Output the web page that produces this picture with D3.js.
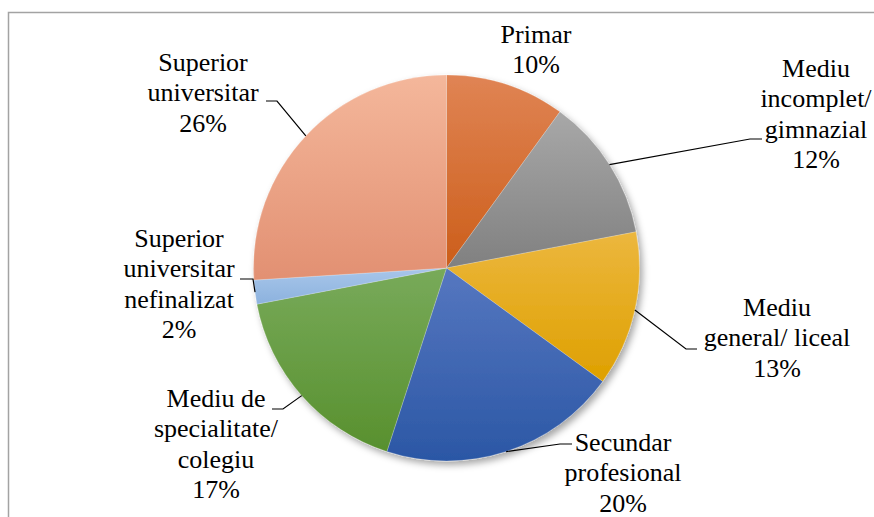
<!DOCTYPE html>
<html>
<head>
<meta charset="utf-8">
<script src="https://cdn.jsdelivr.net/npm/d3@7"></script>
<style>
  html, body { margin: 0; padding: 0; background: #fff; }
  #wrap { position: relative; width: 874px; height: 517px; overflow: hidden; }
  svg { display: block; position: absolute; left: 0; top: 0; }
  .lbl {
    position: absolute;
    white-space: nowrap;
    transform: translateX(-50%);
    font-family: "Liberation Serif", "Times New Roman", Tinos, serif;
    font-size: 26px;
    line-height: 30.3px;
    color: #000;
    text-align: center;
  }
</style>
</head>
<body>
<div id="wrap">
<svg id="chart" width="874" height="517"></svg>
</div>
<script>
// Education level distribution (percent)
const categories = [
  "Primar",
  "Mediu incomplet/ gimnazial",
  "Mediu general/ liceal",
  "Secundar profesional",
  "Mediu de specialitate/ colegiu",
  "Superior universitar nefinalizat",
  "Superior universitar"
];
const values = [10, 12, 13, 20, 17, 2, 26];

// Label line breaks for each category
const labelLines = [
  ["Primar"],
  ["Mediu", "incomplet/", "gimnazial"],
  ["Mediu", "general/ liceal"],
  ["Secundar", "profesional"],
  ["Mediu de", "specialitate/", "colegiu"],
  ["Superior", "universitar", "nefinalizat"],
  ["Superior", "universitar"]
];

// Slice gradient colours: [top, bottom]
const sliceColors = [
  ["#e08454", "#cc5e1a"],
  ["#a8a8a8", "#808080"],
  ["#ecb73e", "#dea000"],
  ["#5677c0", "#2b57a5"],
  ["#78aa5a", "#58902e"],
  ["#a8c6ea", "#8cb2de"],
  ["#f4b79b", "#e29072"]
];

// Label layout: centre x, first baseline y, leader elbow (x,y) and end x (null = no leader)
const labelLayout = [
  { x: 536, y: 44, leader: null },
  { x: 816, y: 78, leader: { ex: 750, ey: 139, tx: 762 } },
  { x: 777, y: 317, leader: { ex: 686, ey: 349, tx: 697 } },
  { x: 623, y: 452, leader: { ex: 560, ey: 444, tx: 572 } },
  { x: 216, y: 408, leader: { ex: 283, ey: 409, tx: 272 } },
  { x: 179, y: 248, leader: { ex: 253, ey: 279, tx: 240 } },
  { x: 203, y: 72, leader: { ex: 277, ey: 101, tx: 266 } }
];

const cx = 446.5, cy = 268, radius = 193;
// distance from a 30.3px line box top to the baseline at 26px
const baselineOffset = 24;

const svg = d3.select("#chart");
const defs = svg.append("defs");

// Soft drop shadow under the pie
const f = defs.append("filter").attr("id", "pieShadow")
  .attr("x", "-10%").attr("y", "-10%").attr("width", "125%").attr("height", "125%");
f.append("feDropShadow").attr("dx", 3).attr("dy", 4).attr("stdDeviation", 3.5)
  .attr("flood-color", "#000").attr("flood-opacity", 0.35);

sliceColors.forEach((c, i) => {
  const g = defs.append("linearGradient").attr("id", "grad" + i)
    .attr("x1", 0).attr("y1", 0).attr("x2", 0).attr("y2", 1);
  g.append("stop").attr("offset", "0%").attr("stop-color", c[0]);
  g.append("stop").attr("offset", "100%").attr("stop-color", c[1]);
});

// Chart frame
svg.append("path")
  .attr("d", "M8.5,517 L8.5,12.5 L874,12.5")
  .attr("fill", "none").attr("stroke", "#a3a3a3").attr("stroke-width", 1.5);

const data = categories.map((c, i) => ({ name: c, value: values[i], i }));
const pie = d3.pie().value(d => d.value).sort(null);
const arcs = pie(data);
const arc = d3.arc().innerRadius(0).outerRadius(radius);

const gPie = svg.append("g")
  .attr("transform", `translate(${cx},${cy})`)
  .attr("filter", "url(#pieShadow)");

gPie.selectAll("path")
  .data(arcs)
  .join("path")
  .attr("d", arc)
  .attr("fill", d => `url(#grad${d.data.i})`)
  .attr("stroke", "rgba(255,255,255,0.35)")
  .attr("stroke-width", 0.6);

// Leader lines from slice midpoints on the rim
arcs.forEach((a, k) => {
  const L = labelLayout[k].leader;
  if (!L) return;
  const mid = (a.startAngle + a.endAngle) / 2;
  const px = cx + radius * Math.sin(mid);
  const py = cy - radius * Math.cos(mid);
  svg.append("polyline")
    .attr("points", `${px},${py} ${L.ex},${L.ey} ${L.tx},${L.ey}`)
    .attr("fill", "none").attr("stroke", "#000").attr("stroke-width", 1.2);
});

// Labels as HTML blocks over the pie (category lines, then percentage)
const wrap = d3.select("#wrap");
arcs.forEach((a, k) => {
  const lay = labelLayout[k];
  const lines = labelLines[k].concat([a.data.value + "%"]);
  const div = wrap.append("div")
    .attr("class", "lbl")
    .style("left", lay.x + "px")
    .style("top", (lay.y - baselineOffset) + "px");
  lines.forEach((ln, j) => {
    if (j > 0) div.append("br");
    div.append("span").text(ln);
  });
});
</script>
</body>
</html>
